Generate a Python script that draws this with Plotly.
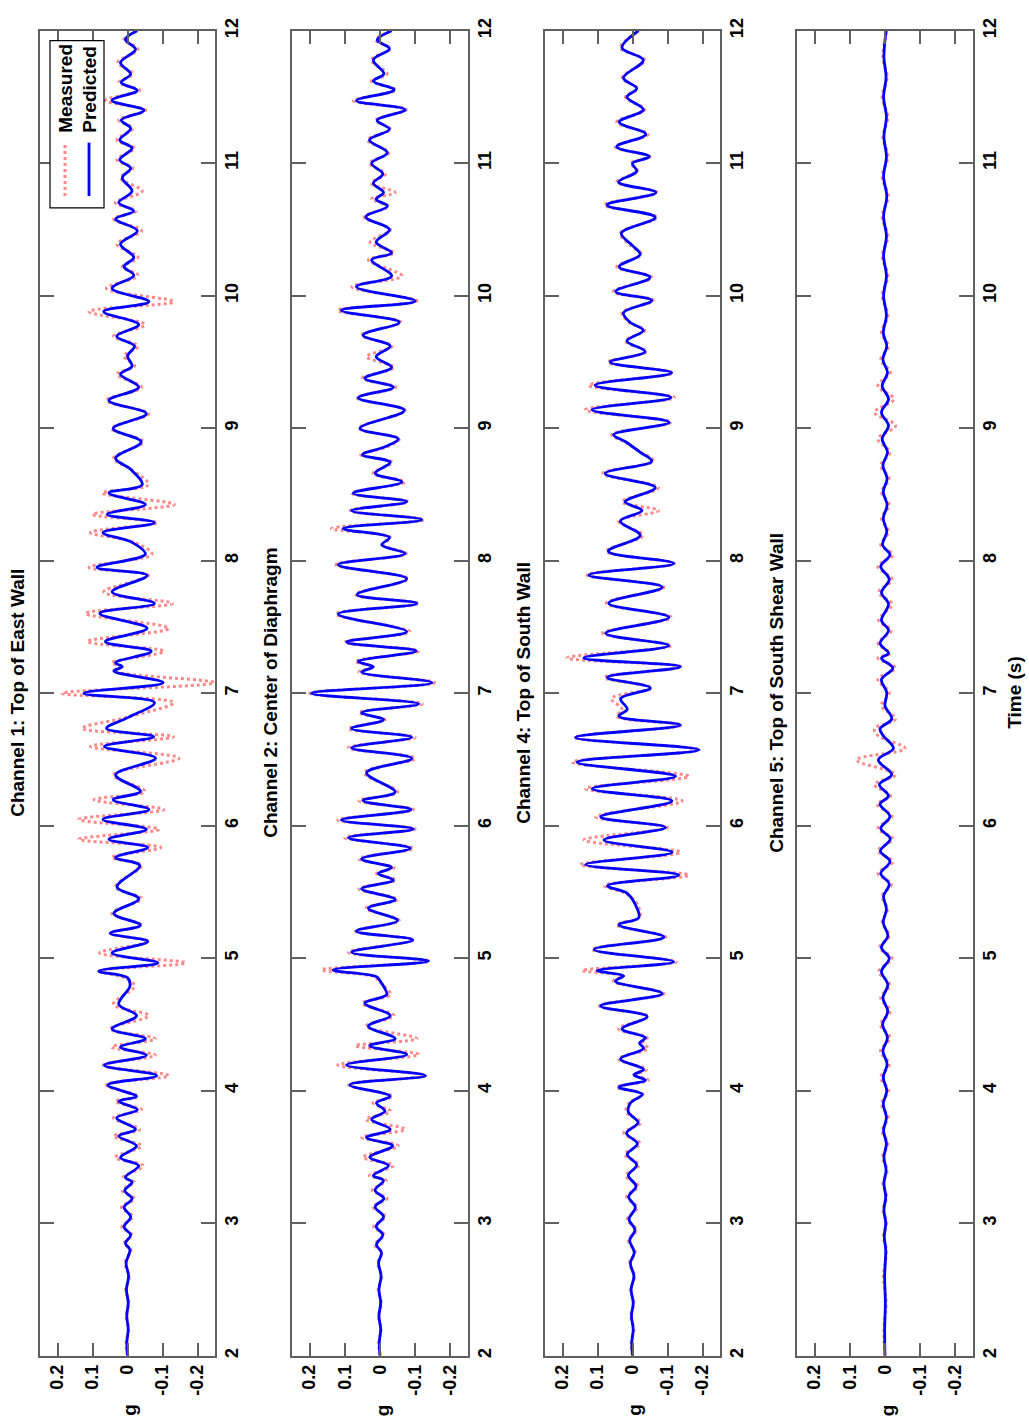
import plotly.graph_objects as go

# ---------------- DATA ----------------
time_ticks = [2, 3, 4, 5, 6, 7, 8, 9, 10, 11, 12]
g_ticks = [0.2, 0.1, 0, -0.1, -0.2]
g_tick_labels = ["0.2", "0.1", "0", "-0.1", "-0.2"]
panel_titles = ["Channel 1: Top of East Wall", "Channel 2: Center of Diaphragm",
                "Channel 4: Top of South Wall", "Channel 5: Top of South Shear Wall"]
series_names = ["Measured", "Predicted"]

# Channel 1: Top of East Wall
t_ch1 = [2.0, 2.1, 2.2, 2.3, 2.4, 2.5, 2.6, 2.7, 2.8, 2.849, 2.911, 2.973, 3.048, 3.122, 3.185,
         3.247, 3.31, 3.347, 3.434, 3.496, 3.583, 3.658, 3.708, 3.795, 3.857, 3.92, 3.957, 4.044,
         4.114, 4.193, 4.268, 4.33, 4.392, 4.467, 4.567, 4.653, 4.79, 4.853, 4.903, 4.965, 5.04,
         5.127, 5.189, 5.25, 5.338, 5.45, 5.538, 5.70, 5.76, 5.836, 5.898, 5.973, 6.048, 6.122,
         6.197, 6.26, 6.384, 6.51, 6.598, 6.672, 6.735, 6.82, 6.93, 7.0, 7.08, 7.168, 7.20, 7.23,
         7.317, 7.39, 7.49, 7.603, 7.678, 7.765, 7.89, 7.95, 8.05, 8.139, 8.213, 8.288, 8.35,
         8.425, 8.512, 8.575, 8.69, 8.774, 8.898, 8.998, 9.11, 9.21, 9.31, 9.408, 9.47, 9.545,
         9.62, 9.695, 9.782, 9.881, 9.956, 10.056, 10.155, 10.22, 10.29, 10.39, 10.49, 10.58,
         10.64, 10.703, 10.79, 10.89, 10.964, 11.027, 11.114, 11.176, 11.263, 11.326, 11.40,
         11.475, 11.55, 11.61, 11.674, 11.76, 11.86, 11.935, 12.0]
pred_ch1 = [0.0, 0.002, -0.002, 0.002, -0.002, 0.003, -0.003, 0.004, -0.007, 0.006, -0.009, 0.01,
            -0.009, 0.01, -0.013, 0.008, -0.013, 0.006, -0.032, 0.02, -0.026, 0.025, -0.023, 0.031,
            -0.028, 0.025, -0.026, 0.056, -0.083, 0.066, -0.054, 0.02, -0.051, 0.044, -0.026, 0.025,
            -0.007, 0.0, 0.082, -0.087, 0.044, -0.058, 0.049, -0.037, 0.039, -0.032, 0.03, -0.035,
            0.034, -0.058, 0.053, -0.054, 0.07, -0.061, 0.041, -0.037, 0.034, -0.08, 0.066, -0.075,
            0.06, -0.004, -0.077, 0.125, -0.102, 0.039, 0.015, 0.034, -0.068, 0.063, -0.056, 0.079,
            -0.077, 0.044, -0.056, 0.087, -0.051, -0.013, 0.07, -0.077, 0.058, -0.051, 0.053, -0.042,
            -0.009, 0.034, -0.039, 0.041, -0.054, 0.053, -0.032, 0.02, -0.013, 0.0, -0.02, 0.031,
            -0.032, 0.068, -0.061, 0.044, -0.018, 0.01, -0.018, 0.02, -0.028, 0.034, -0.018, 0.025,
            -0.013, 0.015, -0.009, 0.022, -0.013, 0.022, -0.009, 0.018, -0.047, 0.044, -0.028, 0.018,
            -0.009, 0.02, -0.023, 0.006, -0.028]
meas_ch1 = [0.0, 0.004, -0.003, 0.004, -0.004, 0.005, -0.005, 0.007, -0.01, 0.01, -0.014, 0.016,
            -0.015, 0.017, -0.02, 0.015, -0.02, 0.012, -0.045, 0.035, -0.04, 0.04, -0.035, 0.04,
            -0.04, 0.035, -0.03, 0.06, -0.118, 0.07, -0.08, 0.045, -0.08, 0.05, -0.06, 0.04,
            -0.02, 0.01, 0.08, -0.166, 0.08, -0.06, 0.05, -0.04, 0.045, -0.04, 0.035, -0.04,
            0.045, -0.095, 0.139, -0.09, 0.139, -0.104, 0.096, -0.05, 0.04, -0.147, 0.106, -0.132,
            0.13, 0.0, -0.132, 0.187, -0.247, 0.04, 0.02, 0.045, -0.104, 0.115, -0.118, 0.12,
            -0.128, 0.068, -0.06, 0.11, -0.07, -0.02, 0.106, -0.085, 0.1, -0.134, 0.072, -0.06,
            -0.01, 0.04, -0.045, 0.045, -0.06, 0.06, -0.04, 0.03, -0.02, 0.01, -0.03, 0.04,
            -0.05, 0.11, -0.132, 0.06, -0.03, 0.015, -0.03, 0.03, -0.04, 0.04, -0.025, 0.035,
            -0.042, 0.02, -0.015, 0.03, -0.02, 0.03, -0.015, 0.025, -0.052, 0.063, -0.035, 0.025,
            -0.015, 0.028, -0.03, 0.01, -0.03]

# Channel 2: Center of Diaphragm
t_ch2 = [2.0, 2.1, 2.2, 2.3, 2.4, 2.5, 2.6, 2.7, 2.78, 2.838, 2.913, 2.975, 3.05, 3.124, 3.187,
         3.249, 3.323, 3.36, 3.435, 3.498, 3.585, 3.647, 3.709, 3.784, 3.846, 3.908, 3.958, 4.045,
         4.114, 4.194, 4.274, 4.34, 4.394, 4.487, 4.567, 4.66, 4.726, 4.78, 4.83, 4.86, 4.912,
         4.979, 5.045,
         5.138, 5.205, 5.285, 5.378, 5.444, 5.524, 5.59, 5.64, 5.684, 5.75, 5.83, 5.91, 5.976,
         6.043, 6.122, 6.19, 6.255, 6.40, 6.508, 6.588, 6.668, 6.734, 6.80, 6.854, 6.92, 7.0,
         7.08, 7.16, 7.20, 7.24, 7.319, 7.386, 7.465, 7.598, 7.678, 7.745, 7.864, 7.97, 8.054,
         8.12, 8.176, 8.243, 8.31, 8.378, 8.446, 8.51, 8.595, 8.66, 8.743, 8.80, 8.86, 8.92, 9.0,
         9.135, 9.23, 9.31, 9.378, 9.46, 9.54, 9.62, 9.703, 9.8, 9.89, 9.96, 10.068, 10.15, 10.27,
         10.324, 10.405, 10.5, 10.595, 10.676, 10.73, 10.78, 10.85, 10.92, 11.0, 11.08, 11.176,
         11.257, 11.324, 11.405, 11.473, 11.554, 11.62, 11.676, 11.78, 11.865, 11.93, 12.0]
pred_ch2 = [0.0, 0.002, -0.002, 0.003, -0.002, 0.003, -0.003, 0.004, -0.004, 0.01, -0.008, 0.011,
            -0.01, 0.014, -0.011, 0.014, -0.01, 0.019, -0.024, 0.029, -0.036, 0.038, -0.029, 0.024,
            -0.014, 0.01, -0.029, 0.086, -0.129, 0.095, -0.076, 0.029, -0.043, 0.033, -0.029, 0.043,
            -0.019, -0.012, 0.0, 0.01, 0.133, -0.138, 0.081, -0.093, 0.067, -0.05, 0.033, -0.043, 0.052, -0.038,
            0.005, -0.033, 0.052, -0.086, 0.09, -0.095, 0.11, -0.088, 0.048, -0.043, 0.038, -0.09,
            0.081, -0.09, 0.081, -0.01, 0.052, -0.11, 0.195, -0.148, 0.052, 0.019, 0.062, -0.103,
            0.095, -0.076, 0.119, -0.105, 0.065, -0.076, 0.119, -0.071, -0.005, -0.027, 0.105,
            -0.119, 0.081, -0.076, 0.076, -0.062, 0.014, -0.029, 0.05, -0.014, -0.052, 0.057,
            -0.069, 0.062, -0.038, 0.043, -0.033, 0.011, -0.029, 0.048, -0.055, 0.11, -0.1, 0.067,
            -0.033, 0.024, -0.033, 0.011, -0.027, 0.04, -0.021, 0.011, -0.01, 0.019, -0.008, 0.024,
            -0.021, 0.03, -0.027, 0.008, -0.071, 0.067, -0.04, 0.019, -0.011, 0.019, -0.027, 0.008,
            -0.033]
meas_ch2 = [0.0, 0.004, -0.003, 0.004, -0.004, 0.005, -0.005, 0.006, -0.006, 0.015, -0.012, 0.018,
            -0.015, 0.02, -0.02, 0.022, -0.018, 0.03, -0.038, 0.048, -0.052, 0.052, -0.071, 0.04,
            -0.03, 0.02, -0.035, 0.09, -0.13, 0.12, -0.11, 0.07, -0.105, 0.04, -0.04, 0.05,
            -0.03, -0.015, 0.005, 0.015, 0.166, -0.14, 0.09, -0.095, 0.07, -0.055, 0.04, -0.05, 0.06, -0.045,
            0.01, -0.04, 0.06, -0.095, 0.1, -0.1, 0.12, -0.095, 0.06, -0.05, 0.045, -0.1,
            0.09, -0.1, 0.09, -0.015, 0.06, -0.12, 0.2, -0.155, 0.06, 0.02, 0.07, -0.11,
            0.1, -0.085, 0.125, -0.11, 0.07, -0.08, 0.125, -0.075, -0.01, -0.03, 0.138,
            -0.125, 0.085, -0.08, 0.08, -0.07, 0.02, -0.035, 0.055, -0.02, -0.055, 0.06,
            -0.072, 0.065, -0.045, 0.05, -0.04, 0.038, -0.035, 0.052, -0.06, 0.12, -0.105, 0.08,
            -0.062, 0.033, -0.04, 0.028, -0.03, 0.045, -0.025, 0.024, -0.043, 0.025, -0.015, 0.03,
            -0.025, 0.035, -0.03, 0.012, -0.075, 0.076, -0.045, 0.025, -0.02, 0.025, -0.03, 0.012,
            -0.035]

# Channel 4: Top of South Wall
t_ch4 = [2.0, 2.1, 2.2, 2.3, 2.4, 2.5, 2.6, 2.7, 2.78, 2.87, 2.95, 3.03, 3.12, 3.2, 3.28, 3.36,
         3.44, 3.52, 3.6, 3.68, 3.76, 3.84, 3.907, 3.973, 4.027, 4.08, 4.12, 4.16, 4.24, 4.32,
         4.36, 4.4, 4.467, 4.56, 4.64, 4.733, 4.827, 4.867, 4.907, 4.973, 5.067, 5.16, 5.253,
         5.307, 5.4, 5.49, 5.547, 5.627, 5.707, 5.8, 5.893, 5.987, 6.067, 6.187, 6.28, 6.373,
         6.48, 6.573, 6.667, 6.76, 6.827, 6.88, 6.96, 7.04, 7.12, 7.2, 7.267, 7.36, 7.453, 7.573,
         7.68, 7.8, 7.893, 7.98, 8.072, 8.192, 8.299, 8.379, 8.445, 8.552, 8.659, 8.752, 8.819,
         8.90, 8.952, 9.045, 9.139, 9.232, 9.325, 9.419, 9.499, 9.579, 9.659, 9.739, 9.80, 9.872,
         9.965, 10.032, 10.139, 10.219, 10.312, 10.379, 10.472, 10.592, 10.685, 10.779, 10.859,
         10.94, 11.0, 11.05, 11.125, 11.219, 11.312, 11.405, 11.5, 11.565, 11.645, 11.779, 11.872,
         12.0]
pred_ch4 = [0.0, 0.002, -0.002, 0.003, -0.002, 0.004, -0.004, 0.006, -0.005, 0.008, -0.007, 0.01,
            -0.008, 0.011, -0.01, 0.012, -0.012, 0.015, -0.014, 0.017, -0.016, 0.012, 0.006, -0.028,
            0.039, -0.037, -0.004, -0.032, 0.034, -0.032, -0.02, -0.037, 0.03, -0.042, 0.091, -0.085,
            0.049, 0.025, 0.101, -0.118, 0.11, -0.09, 0.039, -0.018, -0.009, 0.015, 0.072, -0.132,
            0.134, -0.113, 0.082, -0.094, 0.091, -0.113, 0.115, -0.123, 0.158, -0.19, 0.163, -0.137,
            0.039, 0.015, 0.034, -0.051, 0.072, -0.137, 0.139, -0.104, 0.077, -0.104, 0.068, -0.085,
            0.125, -0.118, 0.069, -0.022, 0.035, -0.027, 0.021, -0.065, 0.078, -0.055, -0.022, 0.021,
            0.054, -0.105, 0.116, -0.11, 0.107, -0.112, 0.064, -0.036, 0.016, -0.031, 0.007, 0.026,
            -0.055, 0.048, -0.05, 0.038, -0.022, 0.0, 0.032, -0.065, 0.073, -0.067, 0.04, -0.012,
            0.0, -0.048, 0.045, -0.038, 0.038, -0.031, 0.016, -0.012, 0.026, -0.031, 0.03, -0.017]
meas_ch4 = [0.0, 0.004, -0.004, 0.005, -0.004, 0.006, -0.006, 0.009, -0.008, 0.012, -0.011, 0.015,
            -0.013, 0.017, -0.016, 0.019, -0.019, 0.022, -0.022, 0.025, -0.024, 0.018, 0.01, -0.03,
            0.045, -0.045, -0.01, -0.04, 0.04, -0.045, -0.03, -0.042, 0.04, -0.045, 0.095, -0.09,
            0.055, 0.03, 0.144, -0.125, 0.115, -0.095, 0.045, -0.02, -0.015, 0.02, 0.08, -0.161,
            0.149, -0.137, 0.139, -0.1, 0.105, -0.142, 0.134, -0.161, 0.172, -0.19, 0.165, -0.14,
            0.045, 0.03, 0.06, -0.055, 0.08, -0.14, 0.187, -0.11, 0.085, -0.11, 0.075, -0.09,
            0.13, -0.12, 0.075, -0.03, 0.04, -0.074, 0.03, -0.074, 0.085, -0.06, -0.025, 0.025,
            0.06, -0.11, 0.135, -0.12, 0.125, -0.115, 0.07, -0.04, 0.02, -0.035, 0.01, 0.03,
            -0.06, 0.055, -0.055, 0.045, -0.025, 0.005, 0.035, -0.07, 0.08, -0.07, 0.045, -0.015,
            0.005, -0.05, 0.05, -0.045, 0.045, -0.035, 0.02, -0.015, 0.03, -0.035, 0.035, -0.02]

# Channel 5: Top of South Shear Wall
t_ch5 = [2.0, 2.2, 2.4, 2.6, 2.8, 2.9, 3.0, 3.1, 3.2, 3.3, 3.4, 3.5, 3.6, 3.7, 3.8, 3.9, 4.0,
         4.1, 4.2, 4.3, 4.4, 4.5, 4.6, 4.7, 4.8, 4.9, 5.0, 5.08, 5.17, 5.27, 5.37, 5.47, 5.56,
         5.64, 5.73, 5.81, 5.9, 5.98, 6.07, 6.163, 6.225, 6.312, 6.386, 6.497, 6.584, 6.68,
         6.733, 6.807, 6.906, 7.005, 7.104, 7.19, 7.265, 7.302, 7.376, 7.475, 7.55, 7.673, 7.76,
         7.859, 7.958, 8.045, 8.12, 8.22, 8.32, 8.42, 8.52, 8.62, 8.72, 8.82, 8.92, 9.02, 9.12,
         9.22, 9.32, 9.42, 9.52, 9.62, 9.72, 9.85, 10.0, 10.15, 10.3, 10.45, 10.6, 10.75, 10.9,
         11.05, 11.2, 11.35, 11.5, 11.65, 11.8, 12.0]
pred_ch5 = [0.0, 0.001, -0.001, 0.001, -0.002, 0.002, -0.002, 0.003, -0.002, 0.003, -0.003, 0.003,
            -0.004, 0.004, -0.004, 0.005, -0.005, 0.005, -0.006, 0.006, -0.007, 0.007, -0.008,
            0.006, -0.008, 0.01, -0.012, 0.01, -0.008, 0.005, -0.004, 0.004, -0.012, 0.012, -0.014,
            0.013, -0.015, 0.012, -0.014, 0.014, -0.01, 0.016, -0.019, 0.019, -0.024, 0.005, 0.014,
            -0.019, 0.0, -0.005, 0.01, -0.022, 0.01, -0.01, 0.014, -0.01, 0.01, -0.01, 0.01, -0.012,
            0.012, -0.014, 0.007, -0.005, 0.005, -0.006, 0.005, -0.006, 0.006, -0.007, 0.008, -0.01,
            0.01, -0.01, 0.008, -0.007, 0.006, -0.005, 0.005, -0.004, 0.004, -0.004, 0.004, -0.004,
            0.004, -0.005, 0.004, -0.004, 0.003, -0.004, 0.004, -0.003, 0.003, -0.003]
meas_ch5 = [0.0, 0.003, -0.003, 0.004, -0.004, 0.005, -0.005, 0.006, -0.005, 0.006, -0.006, 0.007,
            -0.008, 0.008, -0.009, 0.01, -0.01, 0.012, -0.012, 0.013, -0.014, 0.013, -0.015,
            0.012, -0.014, 0.018, -0.02, 0.015, -0.012, 0.008, -0.007, 0.008, -0.018, 0.02, -0.022,
            0.02, -0.022, 0.02, -0.02, 0.022, -0.016, 0.03, -0.03, 0.081, -0.057, 0.02, 0.03,
            -0.03, 0.01, -0.012, 0.02, -0.03, 0.02, -0.015, 0.02, -0.018, 0.018, -0.02, 0.018, -0.02,
            0.02, -0.022, 0.012, -0.01, 0.01, -0.012, 0.01, -0.012, 0.012, -0.014, 0.02, -0.03,
            0.03, -0.025, 0.02, -0.015, 0.012, -0.01, 0.01, -0.008, 0.008, -0.008, 0.008, -0.008,
            0.008, -0.009, 0.008, -0.008, 0.006, -0.008, 0.008, -0.006, 0.006, -0.006]

times = [t_ch1, t_ch2, t_ch4, t_ch5]
predicted = [pred_ch1, pred_ch2, pred_ch4, pred_ch5]
measured = [meas_ch1, meas_ch2, meas_ch4, meas_ch5]

# ---------------- LAYOUT / STYLE ----------------
W, H = 1029, 1428
panel_px = [(40, 215), (292, 468), (545, 720), (797, 973)]
TOP, BOT = 18, 1357
FONT = "Liberation Sans, Arial, sans-serif"
AX_COLOR = "#606060"
RED = "rgba(255,40,40,0.55)"
BLUE = "#0000ff"

def px(x):
    return x / W

def py(y):
    return 1 - y / H

fig = go.Figure()
for i in range(4):
    xa = "x" if i == 0 else f"x{i+1}"
    ya = "y" if i == 0 else f"y{i+1}"
    fig.add_trace(go.Scatter(x=measured[i], y=times[i], xaxis=xa, yaxis=ya, mode="lines",
                             line=dict(color=RED, width=3, dash="dot", shape="spline", smoothing=1),
                             name=series_names[0], showlegend=False, hoverinfo="skip"))
    fig.add_trace(go.Scatter(x=predicted[i], y=times[i], xaxis=xa, yaxis=ya, mode="lines",
                             line=dict(color=BLUE, width=2.8, shape="spline", smoothing=1),
                             name=series_names[1], showlegend=False, hoverinfo="skip"))

TICKFONT = dict(family=FONT, size=18, color="black", weight="bold")
TEXTFONT = dict(family=FONT, size=19, color="black", weight="bold")

layout = dict(width=W, height=H, margin=dict(l=0, r=0, t=0, b=0),
              paper_bgcolor="white", plot_bgcolor="white", showlegend=False,
              font=TICKFONT)
for i, (l, r) in enumerate(panel_px):
    xk = "xaxis" if i == 0 else f"xaxis{i+1}"
    yk = "yaxis" if i == 0 else f"yaxis{i+1}"
    yname = "y" if i == 0 else f"y{i+1}"
    xname = "x" if i == 0 else f"x{i+1}"
    layout[xk] = dict(domain=[px(l), px(r)], range=[0.25, -0.25], anchor=yname,
                      tickvals=g_ticks, ticktext=g_tick_labels, tickangle=-90,
                      ticks="inside", ticklen=13, tickcolor=AX_COLOR, tickwidth=1.5,
                      showline=True, linecolor=AX_COLOR, linewidth=1.5, mirror="allticks",
                      showgrid=False, zeroline=False, side="bottom", tickfont=TICKFONT)
    layout[yk] = dict(domain=[py(BOT), py(TOP)], range=[2, 12], anchor=xname,
                      tickvals=time_ticks, tickangle=-90, side="right",
                      ticks="inside", ticklen=14, tickcolor=AX_COLOR, tickwidth=1.5,
                      showline=True, linecolor=AX_COLOR, linewidth=1.5, mirror="allticks",
                      showgrid=False, zeroline=False, tickfont=TICKFONT)
fig.update_layout(**layout)

title_x = [18, 271, 524, 777]
ann = []
for i, txt in enumerate(panel_titles):
    ann.append(dict(text=txt, x=px(title_x[i]), y=py(687), xref="paper", yref="paper",
                    textangle=-90, showarrow=False, xanchor="center", yanchor="middle",
                    font=TEXTFONT))
    zero_px = (panel_px[i][0] + panel_px[i][1]) / 2
    ann.append(dict(text="g", x=px(zero_px + 2), y=py(1412), xref="paper", yref="paper",
                    textangle=-90, showarrow=False, xanchor="center", yanchor="middle",
                    font=TEXTFONT))
ann.append(dict(text="Time (s)", x=px(1015), y=py(687), xref="paper", yref="paper",
                textangle=-90, showarrow=False, xanchor="center", yanchor="middle",
                font=TEXTFONT))
# legend (drawn rotated, like the reference)
ann.append(dict(text=series_names[0], x=px(65.5), y=py(123), xref="paper", yref="paper",
                textangle=-90, showarrow=False, xanchor="center", yanchor="bottom",
                font=TEXTFONT))
ann.append(dict(text=series_names[1], x=px(89.5), y=py(123), xref="paper", yref="paper",
                textangle=-90, showarrow=False, xanchor="center", yanchor="bottom",
                font=TEXTFONT))
fig.update_layout(annotations=ann)

shapes = [
    dict(type="rect", xref="paper", yref="paper", x0=px(50), x1=px(104), y0=py(197), y1=py(28),
         line=dict(color="black", width=1.2), fillcolor="white", layer="above"),
    dict(type="line", xref="paper", yref="paper", x0=px(65), x1=px(65), y0=py(185), y1=py(131),
         line=dict(color=RED, width=3, dash="dot"), layer="above"),
    dict(type="line", xref="paper", yref="paper", x0=px(89), x1=px(89), y0=py(185), y1=py(131),
         line=dict(color=BLUE, width=2.8), layer="above"),
]
fig.update_layout(shapes=shapes)

fig.write_html("out.html")
